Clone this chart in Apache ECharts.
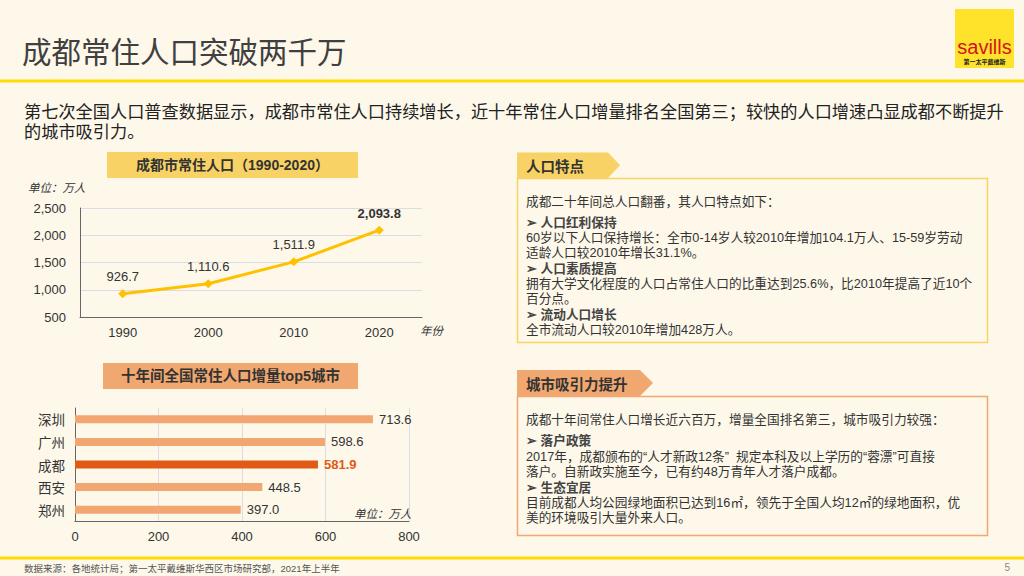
<!DOCTYPE html>
<html>
<head>
<meta charset="utf-8">
<script src="https://cdn.jsdelivr.net/npm/echarts@6/dist/echarts.min.js"></script>
<style>
html,body{margin:0;padding:0;background:#FDF8EA;}
#c{width:1024px;height:576px;}
</style>
</head>
<body>
<div id="c"></div>
<script>
// ---- data ----
var years = ['1990', '2000', '2010', '2020'];
var population = [926.7, 1110.6, 1511.9, 2093.8];
var cities = ['深圳', '广州', '成都', '西安', '郑州'];
var increase = [713.6, 598.6, 581.9, 448.5, 397.0];
var popTicks = [500, 1000, 1500, 2000, 2500];
var incTicks = [0, 200, 400, 600, 800];

var FONT = 'Arial, "Liberation Sans", "Noto Sans CJK SC", sans-serif';
var CJK = '"Noto Sans CJK SC", "Liberation Sans", sans-serif';
var YEL = '#F8D264', ORG = '#F0A870', DARKORG = '#E05A16', GOLD = '#FFDC00';

function fmt(v) {
  return Number(v).toLocaleString('en-US', {minimumFractionDigits: 1, maximumFractionDigits: 1});
}
function T(x, y, text, size, o) {
  o = o || {};
  var st = {
    text: text, fontSize: size, fill: o.fill || '#333',
    fontFamily: o.font || FONT, fontWeight: o.weight || 'normal',
    fontStyle: o.style || 'normal',
    align: o.align || 'left', verticalAlign: o.va || 'middle'
  };
  if (o.lh) st.lineHeight = o.lh;
  return {type: 'text', x: x, y: y, z: 10, silent: true, style: st};
}
function R(x, y, w, h, fill, stroke, lw) {
  return {type: 'rect', z: 1, silent: true, shape: {x: x, y: y, width: w, height: h},
    style: {fill: fill || 'none', stroke: stroke || 'none', lineWidth: lw || 0}};
}
function TAG(x1, y1, x2, tip, y2, fill) {
  var ym = (y1 + y2) / 2;
  return {type: 'polygon', z: 2, silent: true,
    shape: {points: [[x1, y1], [x2, y1], [tip, ym], [x2, y2], [x1, y2]]},
    style: {fill: fill}};
}

var g = [];
// header
g.push(T(22, 50, '成都常住人口突破两千万', 29.5, {fill: '#404040', font: CJK}));
g.push(R(0, 79.5, 1024, 3, GOLD));
// logo
g.push(R(955, 9, 59, 59, '#FFE22A'));
g.push(T(984.5, 47, 'savills', 20, {fill: '#D4141C', align: 'center'}));
g.push(T(984.5, 61, '第一太平戴维斯', 6, {fill: '#222', align: 'center', font: CJK, weight: 'bold'}));
// intro (two lines in one block)
g.push(T(24, 100.5, '第七次全国人口普查数据显示，成都市常住人口持续增长，近十年常住人口增量排名全国第三；较快的人口增速凸显成都不断提升\n的城市吸引力。', 17.2, {fill: '#222', font: CJK, va: 'top', lh: 20}));

// chart titles
g.push(R(107, 152, 251, 26, YEL));
g.push(T(232.5, 165, '成都市常住人口（1990-2020）', 14, {align: 'center', weight: 'bold', fill: '#333'}));
g.push(T(28, 187, '单位：万人', 11.5, {style: 'italic', font: CJK}));
g.push(T(420, 330, '年份', 11.5, {style: 'italic', font: CJK}));

g.push(R(103, 363, 255, 26, ORG));
g.push(T(230.5, 376, '十年间全国常住人口增量top5城市', 14.5, {align: 'center', weight: 'bold', fill: '#333'}));
g.push(T(354, 513, '单位：万人', 11.5, {style: 'italic', font: CJK}));

// right panel 1
g.push(TAG(517, 152.5, 608, 620, 178, YEL));
g.push(T(526, 165.5, '人口特点', 14.5, {weight: 'bold', font: CJK, fill: '#333'}));
g.push(R(517.5, 178.5, 470, 164, 'none', YEL, 1.5));
var fs = 12.7, x0 = 526;
g.push(T(x0, 202, '成都二十年间总人口翻番，其人口特点如下：', fs));
g.push(T(x0, 223, '➢ 人口红利保持', fs, {weight: 'bold', fill: '#444'}));
g.push(T(x0, 238, '60岁以下人口保持增长：全市0-14岁人较2010年增加104.1万人、15-59岁劳动', fs));
g.push(T(x0, 253, '适龄人口较2010年增长31.1%。', fs));
g.push(T(x0, 269, '➢ 人口素质提高', fs, {weight: 'bold', fill: '#444'}));
g.push(T(x0, 284, '拥有大学文化程度的人口占常住人口的比重达到25.6%，比2010年提高了近10个', fs));
g.push(T(x0, 299, '百分点。', fs));
g.push(T(x0, 315, '➢ 流动人口增长', fs, {weight: 'bold', fill: '#444'}));
g.push(T(x0, 329.5, '全市流动人口较2010年增加428万人。', fs));

// right panel 2
g.push(TAG(517, 370, 640, 653, 396, ORG));
g.push(T(526, 383, '城市吸引力提升', 14.5, {weight: 'bold', font: CJK, fill: '#333'}));
g.push(R(517.5, 396.5, 470, 139, 'none', ORG, 1.5));
g.push(T(x0, 420, '成都十年间常住人口增长近六百万，增量全国排名第三，城市吸引力较强：', fs));
g.push(T(x0, 441, '➢ 落户政策', fs, {weight: 'bold', fill: '#444'}));
g.push(T(x0, 456.5, '2017年，成都颁布的“人才新政12条”  规定本科及以上学历的“蓉漂”可直接', fs));
g.push(T(x0, 472, '落户。自新政实施至今，已有约48万青年人才落户成都。', fs));
g.push(T(x0, 488, '➢ 生态宜居', fs, {weight: 'bold', fill: '#444'}));
g.push(T(x0, 503, '目前成都人均公园绿地面积已达到16㎡，领先于全国人均12㎡的绿地面积，优', fs));
g.push(T(x0, 518, '美的环境吸引大量外来人口。', fs));

// footer
g.push(R(0, 556.5, 1024, 3, GOLD));
g.push(T(24, 568, '数据来源：各地统计局；第一太平戴维斯华西区市场研究部，2021年上半年', 9.5, {fill: '#555'}));
g.push(T(1010, 567, '5', 10, {fill: '#888', align: 'right'}));

var chart = echarts.init(document.getElementById('c'), null, {renderer: 'svg', width: 1024, height: 576});
chart.setOption({
  backgroundColor: '#FDF8EA',
  animation: false,
  textStyle: {fontFamily: FONT},
  graphic: g,
  grid: [
    {left: 80, top: 208, width: 342, height: 109},
    {left: 75, top: 408, width: 334, height: 113}
  ],
  xAxis: [
    {
      type: 'category', gridIndex: 0, data: years, boundaryGap: true,
      axisLine: {lineStyle: {color: '#666', width: 1}},
      axisTick: {show: false},
      axisLabel: {fontSize: 13, color: '#333', margin: 9, fontFamily: FONT},
      splitLine: {show: false}
    },
    {
      type: 'value', gridIndex: 1, min: incTicks[0], max: incTicks[incTicks.length - 1], interval: 200,
      axisLine: {show: true, lineStyle: {color: '#666', width: 1}},
      axisTick: {show: false},
      axisLabel: {fontSize: 13, color: '#333', margin: 9, fontFamily: FONT},
      splitLine: {show: true, lineStyle: {color: '#DCDCE6', width: 1}}
    }
  ],
  yAxis: [
    {
      type: 'value', gridIndex: 0, min: popTicks[0], max: popTicks[popTicks.length - 1], interval: 500,
      axisLine: {show: true, lineStyle: {color: '#666', width: 1}},
      axisTick: {show: false},
      axisLabel: {fontSize: 13, color: '#333', margin: 14, fontFamily: FONT,
        formatter: function (v) { return Number(v).toLocaleString('en-US'); }},
      splitLine: {show: true, lineStyle: {color: '#DCDCE6', width: 1}}
    },
    {
      type: 'category', gridIndex: 1, data: cities, inverse: true,
      axisLine: {show: true, lineStyle: {color: '#666', width: 1}},
      axisTick: {show: false},
      axisLabel: {fontSize: 13.5, color: '#333', margin: 10, fontFamily: CJK},
      splitLine: {show: false}
    }
  ],
  series: [
    {
      type: 'line', xAxisIndex: 0, yAxisIndex: 0,
      data: population.map(function (v, i) {
        return i === population.length - 1 ? {value: v, label: {fontWeight: 'bold'}} : v;
      }),
      lineStyle: {color: '#FFC000', width: 3},
      itemStyle: {color: '#FFC000'},
      symbol: 'diamond', symbolSize: 9,
      label: {show: true, position: 'top', distance: 6, fontSize: 13, color: '#333', fontFamily: FONT,
        formatter: function (p) { return fmt(p.value); }}
    },
    {
      type: 'bar', xAxisIndex: 1, yAxisIndex: 1, barWidth: 8,
      data: increase.map(function (v, i) {
        return cities[i] === '成都'
          ? {value: v, itemStyle: {color: DARKORG}, label: {color: DARKORG, fontWeight: 'bold'}}
          : v;
      }),
      itemStyle: {color: '#F2A672'},
      label: {show: true, position: 'right', distance: 6, fontSize: 13, color: '#333', fontFamily: FONT,
        formatter: function (p) { return fmt(p.value); }}
    }
  ]
});
</script>
</body>
</html>
